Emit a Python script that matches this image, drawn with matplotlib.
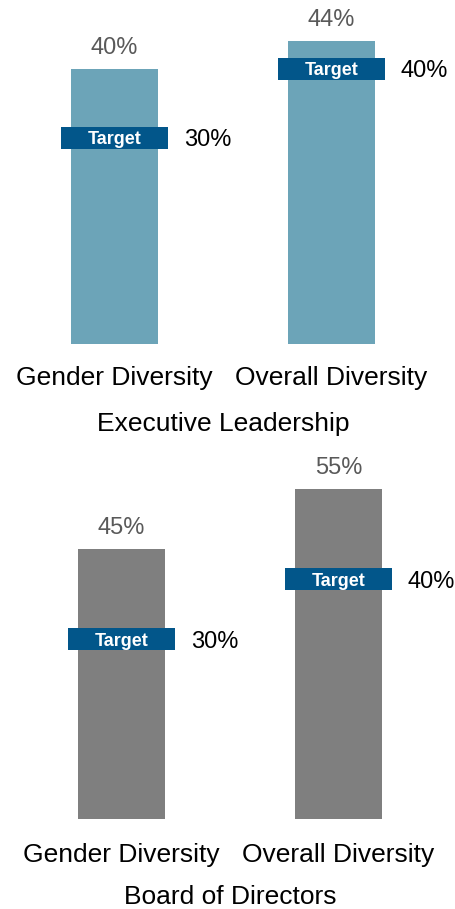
import matplotlib
matplotlib.use('Agg')
import matplotlib.pyplot as plt

plt.rc('font', family=['Liberation Sans', 'DejaVu Sans'])

# 데이터
categories = ['Gender Diversity', 'Overall Diversity']
exec_values = [40, 44]
exec_targets = [30, 40]
board_values = [45, 55]
board_targets = [30, 40]
panel_titles = ['Executive Leadership', 'Board of Directors']

bar_colors = ['#6ca4b8', '#7f7f7f']
target_color = '#02568a'
value_color = '#595959'

W, H = 455, 909
fig = plt.figure(figsize=(W / 100, H / 100), dpi=100)

# 패널 위치 (픽셀): 막대 바닥, 축 높이, 왼쪽 이동
panels = [
    dict(values=exec_values, targets=exec_targets, title=panel_titles[0],
         color=bar_colors[0], base=344, top=0, ymax=50, box_h=3.2,
         xlim=(-0.528, 1.569), lab_off=41, title_off=87),
    dict(values=board_values, targets=board_targets, title=panel_titles[1],
         color=bar_colors[1], base=819, top=459, ymax=60, box_h=3.7,
         xlim=(-0.56, 1.537), lab_off=43, title_off=85),
]

for p in panels:
    ax = fig.add_axes([0, 1 - p['base'] / H, 1, (p['base'] - p['top']) / H])
    ax.set_xlim(*p['xlim'])
    ax.set_ylim(0, p['ymax'])
    ax.axis('off')

    x = range(len(categories))
    ax.bar(x, p['values'], width=0.4, color=p['color'])

    for i, (v, t) in enumerate(zip(p['values'], p['targets'])):
        # 값 라벨
        ax.annotate('{0}%'.format(v), xy=(i, v), xytext=(0, 15),
                    textcoords='offset pixels', ha='center', va='baseline',
                    fontsize=17, color=value_color)
        # 목표 상자
        ax.bar(i, p['box_h'], bottom=t - p['box_h'] / 2, width=0.495,
               color=target_color)
        ax.text(i, t, 'Target', ha='center', va='center_baseline', fontsize=13,
                fontweight='bold', color='white')
        ax.text(i + 0.32, t, '{0}%'.format(t), ha='left', va='center_baseline',
                fontsize=17, color='black')
        # 카테고리 라벨
        ax.annotate(categories[i], xy=(i, 0), xycoords=('data', 'axes fraction'),
                    xytext=(0, -p['lab_off']), textcoords='offset pixels',
                    ha='center', va='baseline', fontsize=19, color='black',
                    annotation_clip=False)

    ax.annotate(p['title'], xy=(0.5, 0), xycoords=('data', 'axes fraction'),
                xytext=(0, -p['title_off']), textcoords='offset pixels',
                ha='center', va='baseline', fontsize=19, color='black',
                annotation_clip=False)

fig.savefig('out.png', dpi=100)
